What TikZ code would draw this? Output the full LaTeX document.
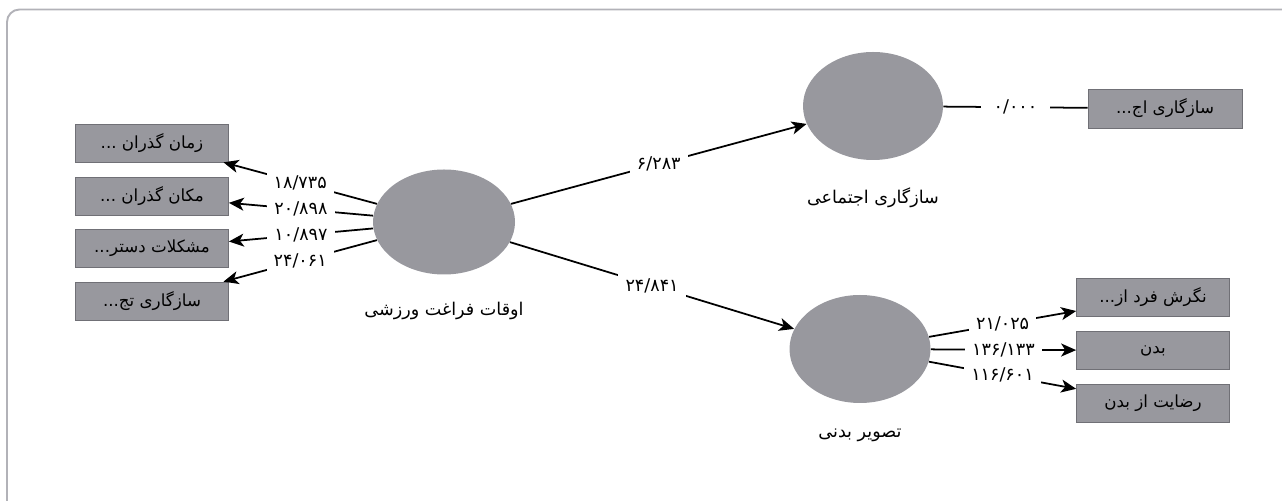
\documentclass[tikz,border=0pt]{standalone}
\usepackage{fontspec}
\newfontfamily\arabicfont[Script=Arabic]{DejaVu Sans}
\TeXXeTstate=1
\usetikzlibrary{shapes.geometric, positioning, arrows.meta}
\definecolor{boxgray}{RGB}{152,152,158}
\definecolor{boxline}{RGB}{112,112,118}
\definecolor{framegray}{RGB}{178,178,184}
\tikzset{
    latent/.style={
        ellipse, minimum width=2.84cm, minimum height=2.1cm, fill=boxgray, draw=none
    },
    indicator/.style={
        rectangle, minimum width=3.06cm, minimum height=0.76cm, text centered, draw=boxline, fill=boxgray, font=\arabicfont\fontsize{9.5}{11}\selectfont
    },
    caption/.style={
        font=\arabicfont\fontsize{10}{12}\selectfont
    },
    weight/.style={
        midway, fill=white, inner xsep=4pt, inner ysep=2.5pt, font=\arabicfont\fontsize{10}{12}\selectfont
    },
    arrow/.style={
        line width=1pt, -{Stealth[length=3mm, width=2.6mm, inset=0.8mm]}
    }
}

\begin{document}
\begin{tikzpicture}

    \useasboundingbox (0,0) rectangle (25.64,10.02);

    % Frame
    \draw[framegray, line width=1.1pt, rounded corners=0.25cm] (0.14,-0.2) |- (25.9,9.83);

    % Latent variables
    \node[latent] (leisure) at (8.88,5.58) {};
    \node[latent, minimum width=2.8cm, minimum height=2.16cm] (social) at (17.46,7.90) {};
    \node[latent, minimum width=2.82cm, minimum height=2.16cm] (body) at (17.20,3.04) {};

    % Latent names
    \node[caption, below=4.2mm of leisure] (leisureName) {\beginR اوقات فراغت ورزشی\endR};
    \node[caption, below=4.2mm of social] (socialName) {\beginR سازگاری اجتماعی\endR};
    \node[caption, below=3.8mm of body] (bodyName) {\beginR تصویر بدنی\endR};

    % Indicators
    \node[indicator] (time) at (3.04,7.16) {\beginR زمان گذران ...\endR};
    \node[indicator] (place) at (3.04,6.10) {\beginR مکان گذران ...\endR};
    \node[indicator] (access) at (3.04,5.05) {\beginR مشکلات دستر{}...\endR};
    \node[indicator] (adjust) at (3.04,4.00) {\beginR سازگاری تج{}...\endR};
    \node[indicator, minimum width=3.08cm, minimum height=0.78cm] (socialItem) at (23.30,7.85) {\beginR سازگاری اج{}...\endR};
    \node[indicator] (attitude) at (23.06,4.07) {\beginR نگرش فرد از{}...\endR};
    \node[indicator] (bodyItem) at (23.06,3.01) {\beginR بدن\endR};
    \node[indicator] (satisfy) at (23.06,1.96) {\beginR رضایت از بدن\endR};

    % Inner paths
    \draw[arrow] (leisure) -- node[weight] {۶/۲۸۳} (social);
    \draw[arrow] (leisure) -- node[weight] {۲۴/۸۴۱} (body);

    % Outer loadings
    \draw[arrow] (leisure) -- node[weight] {۱۸/۷۳۵} (time);
    \draw[arrow] (leisure) -- node[weight] {۲۰/۸۹۸} (place);
    \draw[arrow] (leisure) -- node[weight] {۱۰/۸۹۷} (access);
    \draw[arrow] (leisure) -- node[weight] {۲۴/۰۶۱} (adjust);
    \draw[line width=1pt] (social) -- node[weight, inner xsep=7pt] {۰/۰۰۰} (socialItem);
    \draw[arrow] (body) -- node[weight] {۲۱/۰۲۵} (attitude);
    \draw[arrow] (body) -- node[weight] {۱۳۶/۱۳۳} (bodyItem);
    \draw[arrow] (body) -- node[weight] {۱۱۶/۶۰۱} (satisfy);

\end{tikzpicture}
\end{document}
